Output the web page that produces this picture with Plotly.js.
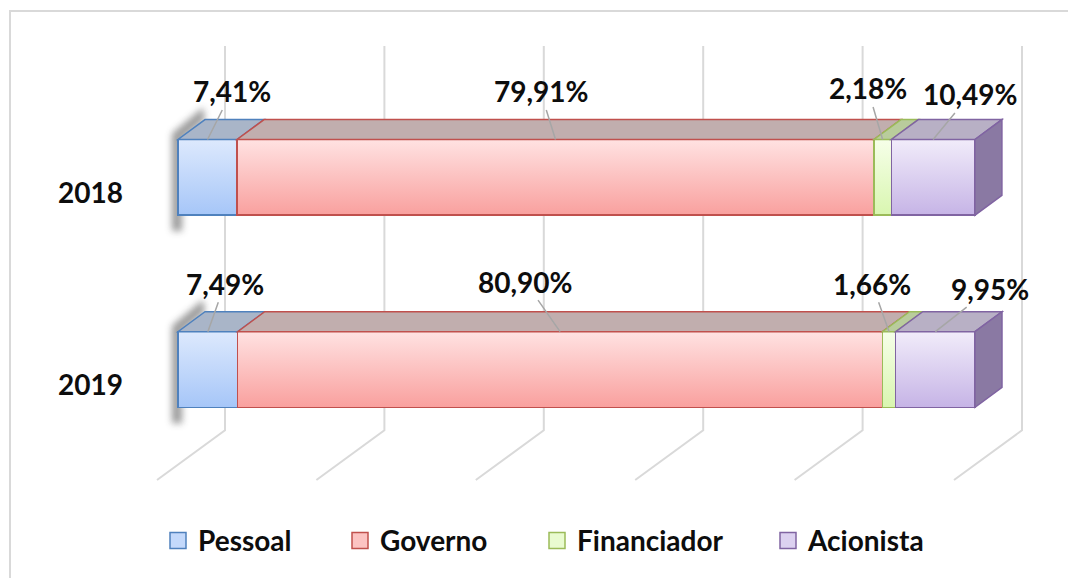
<!DOCTYPE html>
<html>
<head>
<meta charset="utf-8">
<script src="https://cdn.plot.ly/plotly-3.0.1.min.js"></script>
<style>
  html, body { margin:0; padding:0; width:1068px; height:578px; overflow:hidden; background:#fff; }
  #frame { position:absolute; left:9px; top:10px; width:1100px; height:600px; border:2px solid #d9d9d9; box-sizing:border-box; }
  #chart { position:absolute; left:0; top:0; width:1068px; height:578px; }
</style>
</head>
<body>
<div id="frame"></div>
<div id="chart"></div>
<script>
// ---------------- DATA ----------------
const years = ['2018', '2019'];
const seriesNames = ['Pessoal', 'Governo', 'Financiador', 'Acionista'];
const pessoal = [7.41, 7.49];
const governo = [79.91, 80.90];
const financiador = [2.18, 1.66];
const acionista = [10.49, 9.95];
const gridTicks = [0, 20, 40, 60, 80, 100];

// ---------------- STYLE ----------------
const frontTop    = ['#dde9fd', '#ffe2e2', '#f6ffe9', '#f1ecfa'];
const frontBottom = ['#a6c6f8', '#f9a09e', '#d9f6b0', '#c6b4e6'];
const frontMid    = ['#c4d9fb', '#fcc3c2', '#e9fbd0', '#dcd1f0'];
const borderCol   = ['#4f81bd', '#c0504d', '#9bbb59', '#8064a2'];
const topFaceCol  = ['#a9b5c8', '#c1aeae', '#b9cc9c', '#b8b0c5'];
const sideFaceCol = '#8a79a3';
// label offsets (px) [category][series] of label centre relative to leader anchor
const labelOffsets = [
  [[24, -48], [-15, -48], [-15, -51], [37, -45]],
  [[17, -48], [-35, -50], [-17, -48], [55, -43]]
];
// legend swatch left edges (px)
const legendSwatchPx = [170, 352, 549, 780];

const FONT = 'Lato, "Open Sans", sans-serif';
const M = {l:150, r:40, t:20, b:90};
const W = 1068, H = 578;
const plotW = W - M.l - M.r, plotH = H - M.t - M.b;
const pxPerUnitX = 797;     // pixels for 100 %
const x0px = 28;            // pixel of 0 % inside plot area
const pxPerCat = 193;       // pixels between category rows
const y0px = 158;           // pixel of first row centre inside plot area
const xRange = [-x0px / pxPerUnitX, (plotW - x0px) / pxPerUnitX];
const yRange = [(plotH - y0px) / pxPerCat, -y0px / pxPerCat];
const dx = px => px / pxPerUnitX;
const dy = px => px / pxPerCat;
const BW = 76 / pxPerCat;   // bar thickness in row units
const DX = 27, DY = 20;     // 3D depth of the bars (px)

const series = [pessoal, governo, financiador, acionista];
const yIdx = years.map((_, i) => i);
const fmt = v => v.toFixed(2).replace('.', ',') + '%';
const legendKeys = ['legend', 'legend2', 'legend3', 'legend4'];

// ---------------- TRACES ----------------
const traces = [];
series.forEach((vals, s) => {
  traces.push({
    type: 'bar', orientation: 'h', name: seriesNames[s],
    y: yIdx, x: vals.map(v => v / 100), width: BW,
    marker: {color: frontMid[s], line: {color: borderCol[s], width: 1.5}},
    showlegend: false, hoverinfo: 'skip'
  });
});
series.forEach((vals, s) => {
  traces.push({
    type: 'scatter', mode: 'markers', name: seriesNames[s], legend: legendKeys[s],
    x: [null], y: [null],
    marker: {symbol: 'square', size: 16, color: frontMid[s], line: {color: borderCol[s], width: 1.5}},
    showlegend: true, hoverinfo: 'skip'
  });
});

// ---------------- SHAPES (3D faces & walls) ----------------
const shapes = [];
gridTicks.forEach(t => {
  const v = t / 100;
  const bx = v + dx(47);
  const top = 0 - dy(132), bot = (years.length - 1) + dy(61);
  const fx = v - dx(21), fy = (years.length - 1) + dy(111);
  shapes.push({type: 'path', xref: 'x', yref: 'y', layer: 'below',
    path: `M${bx},${top} L${bx},${bot} L${fx},${fy}`,
    line: {color: '#d9d9d9', width: 2}});
});
const shadowIdx = [];
yIdx.forEach(i => {
  const top = i - BW / 2, bot = i + BW / 2;
  shadowIdx.push(shapes.length);
  shapes.push({type: 'path', xref: 'x', yref: 'y', layer: 'below',
    path: `M${dx(DX - 2)},${top - dy(DY + 12)} L${-dx(6)},${top - dy(6)} L${-dx(6)},${bot + dy(16)} L${dx(4)},${bot + dy(16)} L${dx(4)},${top} L${dx(DX)},${top - dy(DY)} Z`,
    fillcolor: '#4a4a4a', opacity: 0.55, line: {width: 0}});
});
yIdx.forEach(i => {
  let cum = 0;
  const top = i - BW / 2, bot = i + BW / 2;
  series.forEach((vals, s) => {
    const a = cum, b = cum + vals[i] / 100;
    cum = b;
    shapes.push({type: 'path', xref: 'x', yref: 'y', layer: 'above',
      path: `M${a},${top} L${b},${top} L${b + dx(DX)},${top - dy(DY)} L${a + dx(DX)},${top - dy(DY)} Z`,
      fillcolor: topFaceCol[s], line: {color: borderCol[s], width: 1.5}});
    if (s === series.length - 1) {
      shapes.push({type: 'path', xref: 'x', yref: 'y', layer: 'above',
        path: `M${b},${top} L${b + dx(DX)},${top - dy(DY)} L${b + dx(DX)},${bot - dy(DY)} L${b},${bot} Z`,
        fillcolor: sideFaceCol, line: {color: borderCol[s], width: 1.5}});
    }
  });
});

// ---------------- DATA LABELS ----------------
const annotations = [];
yIdx.forEach(i => {
  let cum = 0;
  series.forEach((vals, s) => {
    const mid = cum + vals[i] / 200;
    cum += vals[i] / 100;
    const off = labelOffsets[i][s];
    annotations.push({
      x: mid, y: i - BW / 2, xref: 'x', yref: 'y',
      text: fmt(vals[i]), showarrow: true, arrowhead: 0, arrowwidth: 1.5,
      arrowcolor: '#a6a6a6', ax: off[0], ay: off[1], standoff: 0,
      font: {family: FONT, size: 28, color: '#0d0d0d', weight: 'bold'}
    });
  });
});

const legendFont = {family: FONT, size: 28, color: '#0d0d0d', weight: 'bold'};
const layout = {
  width: W, height: H, margin: M,
  paper_bgcolor: 'rgba(0,0,0,0)', plot_bgcolor: 'rgba(0,0,0,0)',
  barmode: 'stack', showlegend: true,
  xaxis: {range: xRange, showgrid: false, zeroline: false, showticklabels: false, showline: false, fixedrange: true},
  yaxis: {range: yRange, showgrid: false, zeroline: false, showline: false, ticks: '',
    tickmode: 'array', tickvals: yIdx, ticktext: years, ticklabelstandoff: 26, ticklabelshift: -16,
    tickfont: {family: FONT, size: 28, color: '#0d0d0d', weight: 'bold'}, fixedrange: true},
  shapes: shapes, annotations: annotations
};
legendKeys.forEach((k, s) => {
  layout[k] = {orientation: 'h', x: (legendSwatchPx[s] - 12 - M.l) / plotW, xanchor: 'left',
    y: -0.1175, yanchor: 'middle', font: legendFont, bgcolor: 'rgba(0,0,0,0)', borderwidth: 0};
});

Plotly.newPlot('chart', traces, layout, {displayModeBar: false, staticPlot: true}).then(gd => {
  const svg = gd.querySelector('svg.main-svg');
  const NS = 'http://www.w3.org/2000/svg';
  let defs = svg.querySelector('defs');
  if (!defs) { defs = document.createElementNS(NS, 'defs'); svg.insertBefore(defs, svg.firstChild); }
  // vertical gradient for bar fronts
  frontTop.forEach((c, s) => {
    const g = document.createElementNS(NS, 'linearGradient');
    g.setAttribute('id', 'gradFront' + s);
    g.setAttribute('x1', '0'); g.setAttribute('y1', '0'); g.setAttribute('x2', '0'); g.setAttribute('y2', '1');
    [[0, frontTop[s]], [1, frontBottom[s]]].forEach(([o, col]) => {
      const st = document.createElementNS(NS, 'stop');
      st.setAttribute('offset', o); st.setAttribute('stop-color', col);
      g.appendChild(st);
    });
    defs.appendChild(g);
  });
  const barTraces = gd.querySelectorAll('.barlayer .trace');
  barTraces.forEach((tr, s) => {
    tr.querySelectorAll('path').forEach(p => { p.style.fill = 'url(#gradFront' + s + ')'; });
  });
  // soft blur for the bar shadows
  const f = document.createElementNS(NS, 'filter');
  f.setAttribute('id', 'barShadowBlur');
  f.setAttribute('x', '-50%'); f.setAttribute('y', '-50%'); f.setAttribute('width', '200%'); f.setAttribute('height', '200%');
  const b = document.createElementNS(NS, 'feGaussianBlur');
  b.setAttribute('stdDeviation', '3.5');
  f.appendChild(b);
  defs.appendChild(f);
  shadowIdx.forEach(idx => {
    gd.querySelectorAll('path[data-index="' + idx + '"]').forEach(p => p.setAttribute('filter', 'url(#barShadowBlur)'));
  });
});
</script>
</body>
</html>
